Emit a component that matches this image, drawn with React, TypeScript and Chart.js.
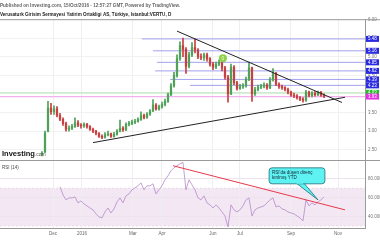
import React, { useEffect, useRef } from 'react';
import { Chart, registerables } from 'chart.js';
Chart.register(...registerables);

const TITLE = 'Published on Investing.com, 15/Oct/2016 - 12:57:27 GMT, Powered by TradingView.';
const SUBTITLE = 'Verusaturk Girisim Sermayesi Yatirim Ortakligi AS, Türkiye, Istanbul:VERTU, D';

const opens = [2.36,2.45,3.00,3.62,3.52,3.60,3.42,3.32,3.20,3.05,3.08,3.12,3.22,3.16,3.14,3.18,3.12,3.05,3.00,2.94,2.86,2.83,2.90,2.93,2.86,2.91,3.00,3.08,3.03,3.18,3.20,3.24,3.26,3.31,3.42,3.37,3.46,3.54,3.70,3.60,3.65,3.72,3.80,3.98,4.22,4.50,4.95,5.30,5.20,4.75,5.05,5.25,5.18,5.00,4.98,5.05,4.95,4.80,4.72,4.80,4.85,4.70,4.45,4.00,4.72,4.30,4.15,4.20,4.22,4.40,4.70,4.00,4.12,4.18,4.20,4.24,4.16,4.38,4.55,4.26,4.20,4.17,4.12,4.05,3.97,3.95,3.90,3.86,3.83,4.05,3.96,4.02,3.98,4.04,3.97];
const closes = [2.40,2.95,3.62,3.52,3.60,3.42,3.32,3.20,3.05,3.08,3.12,3.22,3.16,3.14,3.18,3.12,3.05,3.00,2.94,2.86,2.83,2.90,2.93,2.86,2.91,3.00,3.08,3.03,3.18,3.20,3.24,3.26,3.31,3.42,3.37,3.46,3.54,3.70,3.60,3.65,3.72,3.80,3.98,4.22,4.50,4.95,5.30,5.20,4.75,5.05,5.25,5.18,5.00,4.98,5.05,4.95,4.80,4.72,4.80,4.85,4.70,4.45,4.00,4.72,4.30,4.15,4.20,4.22,4.40,4.70,4.00,4.12,4.18,4.20,4.24,4.16,4.38,4.55,4.26,4.20,4.17,4.12,4.05,3.97,3.95,3.90,3.86,3.83,4.05,3.96,4.02,3.98,4.04,3.97,3.93];
const highs = [2.45,3.00,3.80,3.75,3.68,3.66,3.48,3.36,3.24,3.14,3.18,3.36,3.28,3.20,3.22,3.21,3.15,3.08,3.02,2.96,2.90,2.96,3.00,2.95,2.97,3.04,3.30,3.12,3.22,3.26,3.30,3.32,3.36,3.52,3.46,3.50,3.58,3.85,3.74,3.70,3.78,3.86,4.02,4.28,4.58,5.05,5.40,5.50,5.25,5.12,5.38,5.48,5.22,5.08,5.10,5.10,4.98,4.85,4.86,4.92,4.90,4.74,4.50,4.80,4.76,4.34,4.26,4.28,4.45,4.86,4.72,4.18,4.24,4.26,4.30,4.28,4.44,4.68,4.58,4.30,4.24,4.20,4.16,4.08,4.02,3.98,3.93,3.90,4.10,4.08,4.06,4.06,4.08,4.07,4.00];
const lows = [2.33,2.42,2.98,3.45,3.45,3.38,3.28,3.15,3.00,3.00,3.04,3.10,3.12,3.08,3.10,3.08,3.02,2.96,2.90,2.83,2.80,2.81,2.87,2.83,2.84,2.89,2.98,2.99,3.01,3.14,3.17,3.20,3.24,3.29,3.33,3.34,3.42,3.52,3.56,3.56,3.62,3.68,3.77,3.95,4.18,4.45,4.90,5.00,4.55,4.70,5.00,5.10,4.95,4.92,4.90,4.88,4.75,4.65,4.68,4.76,4.62,4.40,3.78,3.98,4.25,4.10,4.12,4.15,4.18,4.36,3.80,3.96,4.08,4.14,4.16,4.12,4.14,4.34,4.22,4.15,4.12,4.08,4.00,3.93,3.90,3.86,3.82,3.78,3.80,3.92,3.92,3.94,3.95,3.93,3.90];
const rsi14 = [null,null,null,null,null,null,
  71.5,63,57.6,59.7,59.7,60.8,54.4,56.5,53.3,51.2,
  49,47,42.7,39.5,38.4,44.8,49,43.7,48,55.5,
  59.7,54.4,61.9,64,68.3,70.4,72.5,75.7,68.3,72.5,
  72.5,74.7,64,68.3,72.5,79,83.2,88.5,91.7,93.9,
  96,97.5,68.3,79,73.6,68.3,59.7,57.6,61.9,54.4,
  52.3,49,52.3,49,44.8,40.5,28.8,52.3,47,44.8,
  47,51.2,57.6,59.7,40.5,47,49,50.1,51.2,54.4,
  57.6,59.7,50.1,51.2,48,47,44.8,43.7,42.7,40.5,
  38.4,35.2,57.6,51.2,54.4,52.3,55.5,57.6,60.8];

const monthLabels = ['Dec', '2016', 'Mar', 'Apr', 'Jun', 'Jul', 'Sep', 'Nov'];
const monthPositions = [3.67, 13.33, 30.33, 40, 57, 66, 83, 98.67];
const priceTicks = [2.5, 3, 3.5, 4, 4.5, 5, 5.5, 6];
const rsiTicks = [40, 60, 80];

const levelValues = [5.48, 5.16, 4.85, 4.62, 4.39, 4.23];
const levelStarts = [33.3, 37, 38.3, 37.7, 42.7, 49.3];
const greenLevel = 4.03;
const magentaLevel = 3.93;

const upperTrend = [{ x: 45, y: 5.69 }, { x: 100, y: 3.77 }];
const lowerTrend = [{ x: 17, y: 2.69 }, { x: 101, y: 3.91 }];
const rsiTrend = [{ x: 43.7, y: 93.9 }, { x: 101, y: 47 }];

const calloutLines = ["RSI'da düşen direnç", 'kırılmış YTD'];
const calloutBox = { x0: 75.7, x1: 94.3, y0: 91.7, y1: 74.7 };
const calloutTip = { x: 92, y: 57.6 };
const markerPoint = { x: 60.3, y: 4.96, label: '0' };

const X_MIN = -14, X_MAX = 107.67;
const PRICE_MIN = 2.23, PRICE_MAX = 6.01;
const RSI_MIN = 27.7, RSI_MAX = 100.3;

const UP = '#4fa259', DOWN = '#c94040';
const FONT = '"Liberation Sans", Arial, sans-serif';

const decor = {
  id: 'decor',
  beforeDraw(chart: any) {
    const { ctx, chartArea } = chart;
    const r = chart.scales.rsi;
    const y70 = r.getPixelForValue(70), y30 = r.getPixelForValue(30);
    ctx.save();
    ctx.fillStyle = '#f4e7f4';
    ctx.fillRect(chartArea.left, y70, chartArea.right - chartArea.left, y30 - y70);
    ctx.strokeStyle = '#d9bfd9';
    ctx.lineWidth = 0.5;
    ctx.setLineDash([2, 2]);
    ctx.beginPath();
    ctx.moveTo(chartArea.left, y70); ctx.lineTo(chartArea.right, y70);
    ctx.moveTo(chartArea.left, y30); ctx.lineTo(chartArea.right, y30);
    ctx.stroke();
    ctx.restore();
  },
  afterDraw(chart: any) {
    const { ctx, chartArea, width } = chart;
    const p = chart.scales.price, r = chart.scales.rsi, x = chart.scales.x;
    ctx.save();
    ctx.strokeStyle = '#9a9a9a';
    ctx.lineWidth = 1;
    const yDiv = Math.round(p.bottom) + 0.5;
    ctx.beginPath();
    ctx.moveTo(0, chartArea.top + 0.5); ctx.lineTo(width, chartArea.top + 0.5);
    ctx.moveTo(0, yDiv); ctx.lineTo(width, yDiv);
    ctx.stroke();
    const boxes: [number, string][] = levelValues.map((v) => [v, '#2a2ae0'] as [number, string]);
    boxes.push([greenLevel, '#22c022']);
    boxes.push([magentaLevel, '#e030e0']);
    ctx.font = `4.5px ${FONT}`;
    ctx.textBaseline = 'middle';
    ctx.textAlign = 'left';
    for (const [v, c] of boxes) {
      const yy = p.getPixelForValue(v);
      ctx.fillStyle = c;
      ctx.fillRect(chartArea.right + 1, yy - 3, 13, 6);
      ctx.fillStyle = '#fff';
      ctx.fillText(v.toFixed(2), chartArea.right + 3, yy);
    }
    const mx = x.getPixelForValue(markerPoint.x), my = p.getPixelForValue(markerPoint.y);
    ctx.fillStyle = '#8ed04a';
    ctx.beginPath(); ctx.arc(mx, my, 4, 0, Math.PI * 2); ctx.fill();
    ctx.fillStyle = '#e8ffd8';
    ctx.textAlign = 'center';
    ctx.font = `5px ${FONT}`;
    ctx.fillText(markerPoint.label, mx, my + 0.3);
    ctx.textAlign = 'left';
    ctx.textBaseline = 'alphabetic';
    ctx.fillStyle = '#111';
    ctx.font = `bold 7.5px ${FONT}`;
    ctx.fillText('Investing', 2, 156);
    const w = ctx.measureText('Investing').width;
    ctx.fillStyle = '#555';
    ctx.font = `5px ${FONT}`;
    ctx.fillText('.com', 2 + w, 156);
    ctx.fillStyle = '#444';
    ctx.font = `4.5px ${FONT}`;
    ctx.fillText('RSI (14)', 2, 169);
    const bx0 = x.getPixelForValue(calloutBox.x0), bx1 = x.getPixelForValue(calloutBox.x1);
    const by0 = r.getPixelForValue(calloutBox.y0), by1 = r.getPixelForValue(calloutBox.y1);
    const tx = x.getPixelForValue(calloutTip.x), ty = r.getPixelForValue(calloutTip.y);
    const baseA = bx0 + (bx1 - bx0) * 0.48, baseB = bx0 + (bx1 - bx0) * 0.62;
    ctx.fillStyle = '#5ff2f2';
    ctx.strokeStyle = '#1f6f78';
    ctx.lineWidth = 0.8;
    ctx.beginPath();
    ctx.moveTo(baseA, by1 - 1); ctx.lineTo(tx, ty); ctx.lineTo(baseB, by1 - 1);
    ctx.closePath(); ctx.fill(); ctx.stroke();
    ctx.beginPath();
    (ctx as any).roundRect(bx0, by0, bx1 - bx0, by1 - by0, 3);
    ctx.fill(); ctx.stroke();
    ctx.fillStyle = '#5ff2f2';
    ctx.fillRect(baseA + 0.5, by1 - 1.5, baseB - baseA - 1, 1.5);
    ctx.fillStyle = '#123';
    ctx.font = `4.5px ${FONT}`;
    ctx.textBaseline = 'top';
    calloutLines.forEach((t, k) => ctx.fillText(t, bx0 + 3, by0 + 3 + k * 5));
    ctx.restore();
  },
};

export default function App() {
  const ref = useRef<HTMLCanvasElement | null>(null);
  useEffect(() => {
    if (!ref.current) return;
    const wickColors = closes.map((c, i) => (c >= opens[i] ? UP : DOWN));
    const lineDs = (data: any[], color: string, axis: string, width = 1, order = 5) => ({
      type: 'line', data, yAxisID: axis, borderColor: color, borderWidth: width,
      pointRadius: 0, fill: false, order, tension: 0,
    });
    const datasets: any[] = [];
    levelValues.forEach((v, k) => {
      datasets.push(lineDs([{ x: levelStarts[k], y: v }, { x: X_MAX, y: v }], '#8a8ae8', 'price', 0.8, 6));
    });
    datasets.push(lineDs([{ x: X_MIN, y: greenLevel }, { x: X_MAX, y: greenLevel }], '#9fe09f', 'price', 0.8, 6));
    datasets.push(lineDs([{ x: X_MIN, y: magentaLevel }, { x: X_MAX, y: magentaLevel }], '#f3b2ef', 'price', 1.2, 6));
    datasets.push({
      type: 'bar', data: lows.map((l, i) => ({ x: i, y: [l, highs[i]] })), yAxisID: 'price',
      backgroundColor: wickColors, barThickness: 1, grouped: false, order: 3,
    });
    datasets.push({
      type: 'bar', data: opens.map((o, i) => ({ x: i, y: [o, closes[i] === o ? o + 0.01 : closes[i]] })), yAxisID: 'price',
      backgroundColor: wickColors, barThickness: 1.6, grouped: false, order: 3,
    });
    datasets.push(lineDs(upperTrend, '#222', 'price', 1, 1));
    datasets.push(lineDs(lowerTrend, '#222', 'price', 1, 1));
    datasets.push(lineDs(rsi14.map((v, i) => ({ x: i, y: v })), '#b48ac8', 'rsi', 0.8, 2));
    datasets.push(lineDs(rsiTrend, '#e8384a', 'rsi', 1, 1));

    const chart = new Chart(ref.current, {
      type: 'bar',
      data: { datasets },
      plugins: [decor],
      options: {
        animation: false,
        responsive: false,
        layout: { padding: 0 },
        plugins: {
          legend: { display: false },
          tooltip: { enabled: false },
          title: {
            display: true, text: TITLE, align: 'start', color: '#666',
            font: { size: 4.6, family: FONT, lineHeight: 1 }, padding: { top: 3, bottom: 3 },
          },
          subtitle: {
            display: true, text: SUBTITLE, align: 'start', color: '#222',
            font: { size: 4.6, family: FONT, weight: 'bold', lineHeight: 1 }, padding: { top: 2, bottom: 2 },
          },
        },
        scales: {
          x: {
            type: 'linear', min: X_MIN, max: X_MAX, position: 'bottom', offset: false,
            afterBuildTicks: (s: any) => { s.ticks = monthPositions.map((v) => ({ value: v })); },
            afterFit: (s: any) => { s.height = 12; },
            ticks: {
              autoSkip: false, maxRotation: 0, padding: 3, color: '#666',
              font: { size: 4.5, family: FONT },
              callback: (v: any) => { const k = monthPositions.indexOf(Number(v)); return k >= 0 ? monthLabels[k] : ''; },
            },
            grid: { color: '#efefef', drawTicks: false, offset: false },
            border: { color: '#9a9a9a' },
          },
          price: {
            type: 'linear', position: 'right', min: PRICE_MIN, max: PRICE_MAX,
            stack: 'panels', stackWeight: 140,
            afterBuildTicks: (s: any) => { s.ticks = priceTicks.map((v) => ({ value: v })); },
            afterFit: (s: any) => { s.width = 15; },
            ticks: {
              autoSkip: false, padding: 3, color: '#777', font: { size: 4.5, family: FONT },
              callback: (v: any) => Number(v).toFixed(2),
            },
            grid: { color: '#f1f1f1', drawTicks: false },
            border: { color: '#9a9a9a' },
          },
          rsi: {
            type: 'linear', position: 'right', min: RSI_MIN, max: RSI_MAX,
            stack: 'panels', stackWeight: 68,
            afterBuildTicks: (s: any) => { s.ticks = rsiTicks.map((v) => ({ value: v })); },
            afterFit: (s: any) => { s.width = 15; },
            ticks: {
              autoSkip: false, padding: 3, color: '#777', font: { size: 4.5, family: FONT },
              callback: (v: any) => Number(v).toFixed(4),
            },
            grid: { color: '#ece4ec', drawTicks: false },
            border: { color: '#9a9a9a' },
          },
        },
      } as any,
    });
    return () => chart.destroy();
  }, []);
  return (
    <div style={{ position: 'fixed', left: 0, top: 0, width: 380, height: 240, background: '#fff' }}>
      <canvas ref={ref} width={380} height={240} />
    </div>
  );
}
